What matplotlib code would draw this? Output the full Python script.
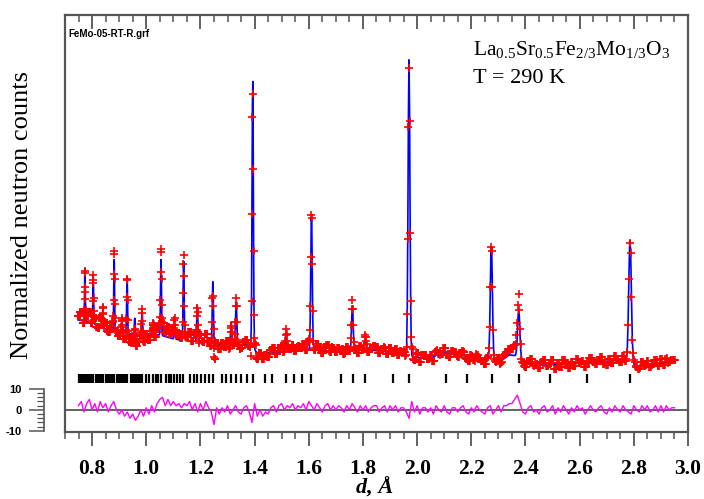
import numpy as np
import matplotlib
matplotlib.use("Agg")
import matplotlib.pyplot as plt
from matplotlib.ticker import MultipleLocator

# ---------------- data ----------------
# cubic supercell parameter (Angstrom) and h^2+k^2+l^2 of the allowed reflections
a_cell = 7.88
hkl_sq = [8, 9, 10, 11, 12, 13, 14, 16, 17, 19, 20, 21, 24, 25, 26, 27, 29, 30, 32,
          33, 34, 35, 36, 37, 38, 40, 41, 42, 43, 44, 45, 46, 48, 49, 50, 51, 52, 53,
          54, 56, 57, 58, 59, 61, 62, 64, 65, 66, 67, 68, 69, 70, 72, 73, 74, 75, 76,
          77, 78, 80, 81, 82, 83, 84, 85, 86, 88, 89, 90, 91, 93, 94, 96, 97, 98, 99,
          100, 101, 102, 104, 105, 106, 107, 108, 109, 110]

# fitted peaks: position (d, A) and intensity above background
peak_d = [0.7736, 0.8042, 0.8399, 0.8815, 0.9098, 0.9293, 0.9576, 0.9845, 1.0265,
          1.0544, 1.1049, 1.1380, 1.1884, 1.2458, 1.3135, 1.3320, 1.3930, 1.5160,
          1.6100, 1.7610, 1.8080, 1.9700, 2.2740, 2.3750, 2.7860]
peak_h = [26, 23, 9, 35, 7, 28, 8, 13, 7,
          37, 6, 38, 17, 30, 11, 20, 129, 9,
          65, 21, 5, 141, 56, 23, 60]
peak_width = 0.0017          # sigma / d

# background knots
bkg_d = [0.748, 0.80, 0.85, 0.92, 0.98, 1.05, 1.10, 1.15, 1.20, 1.25, 1.30, 1.38,
         1.41, 1.50, 1.60, 1.70, 1.82, 1.95, 1.99, 2.06, 2.09, 2.14, 2.22, 2.27,
         2.30, 2.34, 2.37, 2.40, 2.52, 2.67, 2.76, 2.81, 2.88, 2.952]
bkg_y = [42.9, 41.4, 38.6, 36.7, 35.2, 35.7, 33.8, 32.9, 32.9, 31.0, 31.0, 31.4,
         27.1, 27.6, 28.6, 27.6, 28.6, 26.7, 24.8, 25.2, 27.6, 26.7, 24.3, 23.8,
         22.4, 26.2, 25.7, 22.4, 21.4, 22.9, 23.8, 20.5, 21.9, 22.9]

# observed - calculated, in 0.01 A steps from 0.75 A
resid_start, resid_step = 0.75, 0.01
resid = [
    2, 4, -1, 3, 5, 0, 3, -1, 4, 1,        # 0.75
    3, -1, 2, 4, 0, -2, 0, -3, -1, -4,     # 0.85
    -2, -5, -3, 0, -3, 1, -2, 2, -1, 3,    # 0.95
    5, 6, 2, 5, 2, 4, 2, 3, 1, 3,          # 1.05
    2, 4, 0, 3, -1, 3, 0, 4, 1, -1,        # 1.15
    -7, 1, -2, 1, -1, 2, -2, 0, 2, -1,     # 1.25
    -2, 1, 2, -1, -6, 3, -3, 0, -3, -1,    # 1.35
    -2, 1, 2, -1, 2, 3, 0, 2, 1, 3,        # 1.45
    0, 2, 1, 3, 0, 4, 2, 0, 3, 1,          # 1.55
    -1, 2, 3, 0, 2, 0, 2, 1, -1, 2,        # 1.65
    0, 3, 1, -1, 2, 0, 2, -1, 1, 2,        # 1.75
    2, -1, 1, 2, -1, 2, 0, 2, -1, 1,       # 1.85
    1, -1, -4, 4, -1, 2, -2, 1, 1, -1,     # 1.95
    1, -2, 2, 0, -1, 2, -1, -2, 1, 1,      # 2.05
    -1, 1, 2, -1, -2, 1, -1, 2, 0, -1,     # 2.15
    -2, 1, 2, -2, 0, 2, -1, 2, 2, 3,       # 2.25
    3, 5, 7, 3, -1, -2, 1, 2, -1, 0,       # 2.35
    -2, 1, 2, -1, 0, 2, -2, 1, -1, 2,      # 2.45
    0, -2, 1, -1, 2, 0, 1, -2, 0, 2,       # 2.55
    0, -1, 1, 2, -1, -2, 1, -1, 2, 0,      # 2.65
    -1, 2, 0, -1, -2, 2, 0, -1, 2, 0,      # 2.75
    2, -1, 0, 2, -1, 2, -1, 2, 0, 1,       # 2.85
    1,                                     # 2.95
]

x_ticks = [0.8, 1.0, 1.2, 1.4, 1.6, 1.8, 2.0, 2.2, 2.4, 2.6, 2.8, 3.0]
x_tick_labels = ["0.8", "1.0", "1.2", "1.4", "1.6", "1.8", "2.0", "2.2", "2.4", "2.6", "2.8", "3.0"]
ruler_ticks = [-10, 0, 10]
ruler_labels = ["-10", "0", "10"]

# ---------------- profile ----------------
d = np.geomspace(0.748, 2.952, 1250)
calc = np.interp(d, bkg_d, bkg_y)
for pd_, ph in zip(peak_d, peak_h):
    sig = peak_width * pd_
    calc = calc + ph * np.exp(-0.5 * ((d - pd_) / sig) ** 2)

resid = np.asarray(resid, dtype=float)
resid_d = resid_start + resid_step * np.arange(len(resid))
bin_idx = np.clip(np.rint((d - resid_start) / resid_step).astype(int), 0, len(resid) - 1)
obs = calc + resid[bin_idx]

refl_d = a_cell / np.sqrt(np.asarray(hkl_sq, dtype=float))

# ---------------- figure ----------------
W, H = 704, 499
y0, y1 = -10.3, 188.1          # data range of the main panel
ax_bottom_px, ax_top_px = 431.5, 15


def fig_y(val):
    """figure fraction of a data value of the main panel"""
    frac = (val - y0) / (y1 - y0)
    px = ax_bottom_px - frac * (ax_bottom_px - ax_top_px)
    return 1 - px / H


plt.rcParams["font.weight"] = "bold"
fig = plt.figure(figsize=(W / 100, H / 100), dpi=100)
ax = fig.add_axes([65 / W, 1 - ax_bottom_px / H, 623 / W, (ax_bottom_px - ax_top_px) / H])

frame_col = "#555555"
ax.axhline(0, color=frame_col, lw=1.3, zorder=1)
ax.vlines(refl_d, 12.9, 16.9, color="black", lw=1.6, zorder=2)
ax.plot(resid_d, resid, color="#ff00ff", lw=1.0, zorder=3)
ax.plot(d, calc, color="#0000ff", lw=1.2, zorder=4)
ax.plot(d, obs, "+", color="#ff0000", ms=6, mew=1.2, zorder=5)

ax.set_xlim(0.7, 3.0)
ax.set_ylim(y0, y1)

for s in ax.spines.values():
    s.set_color(frame_col)
    s.set_linewidth(1.6)

ax.set_xticks(x_ticks)
ax.set_xticklabels(x_tick_labels)
ax.xaxis.set_minor_locator(MultipleLocator(0.05))
ax.tick_params(axis="x", which="major", direction="out", length=10, width=1.3,
               color=frame_col, pad=10, labelsize=15.5,
               labelfontfamily="Liberation Serif")
ax.tick_params(axis="x", which="minor", direction="out", length=5, width=1.1,
               color=frame_col)
ax.set_yticks([])

top = ax.secondary_xaxis("top")
top.set_xticks(x_ticks)
top.xaxis.set_minor_locator(MultipleLocator(0.05))
top.tick_params(which="major", direction="in", length=10, width=1.3,
                color=frame_col, labeltop=False)
top.tick_params(which="minor", direction="in", length=5, width=1.1, color=frame_col)
top.spines["top"].set_visible(False)

# small scale bar for the difference curve, left of the frame
rb, rt = fig_y(-10), fig_y(10)
rax = fig.add_axes([44 / W, rb, 0.0001, rt - rb])
rax.set_ylim(-10, 10)
rax.set_xticks([])
for side in ("top", "right", "bottom"):
    rax.spines[side].set_visible(False)
rax.spines["left"].set_color(frame_col)
rax.spines["left"].set_linewidth(1.2)
rax.set_yticks(ruler_ticks)
rax.set_yticklabels(ruler_labels)
rax.yaxis.set_minor_locator(MultipleLocator(2))
rax.tick_params(which="major", direction="out", length=11, width=1.1,
                color=frame_col, pad=5, labelsize=8,
                labelfontfamily="Liberation Sans")
rax.tick_params(which="minor", direction="out", length=5, width=0.9, color=frame_col)

# annotations
fig.text(68 / W, 1 - 37 / H, "FeMo-05-RT-R.grf", family="Liberation Sans",
         weight="bold", fontsize=7, ha="left", va="baseline")
fig.text(473 / W, 1 - 55 / H,
         r"La$_{\mathregular{0.5}}$Sr$_{\mathregular{0.5}}$Fe$_{\mathregular{2/3}}$"
         r"Mo$_{\mathregular{1/3}}$O$_{\mathregular{3}}$",
         family="Liberation Serif", weight="normal", fontsize=15.5,
         ha="left", va="baseline")
fig.text(473 / W, 1 - 83 / H, "T = 290 K", family="Liberation Serif",
         weight="normal", fontsize=16, ha="left", va="baseline")
fig.text(22 / W, 1 - 215 / H, "Normalized neutron counts",
         family="Liberation Serif", weight="normal", fontsize=19,
         rotation=90, ha="center", va="center")
fig.text(375 / W, 1 - 488 / H, "d, Å", family="Liberation Serif",
         weight="bold", style="italic", fontsize=16, ha="center", va="center")

fig.savefig("out.png", dpi=100)
